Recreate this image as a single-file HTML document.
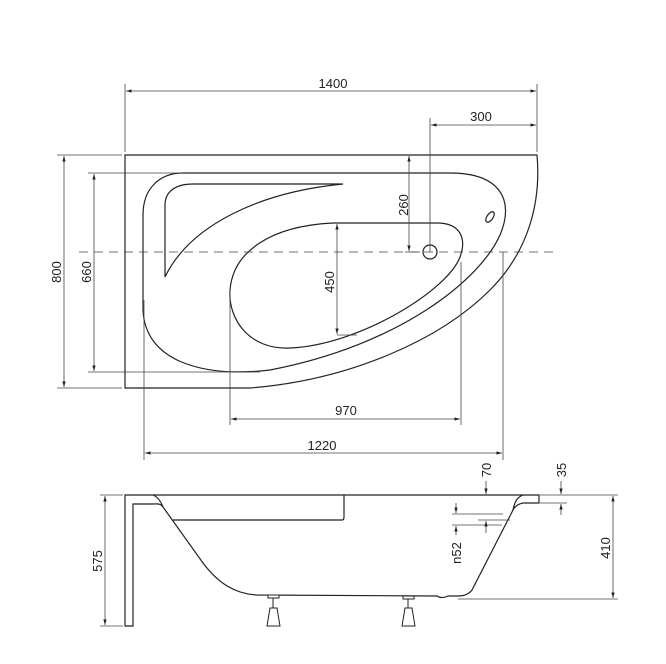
<!DOCTYPE html>
<html><head><style>
html,body{margin:0;padding:0;background:#fff;}
svg{display:block;}
text{font-family:"Liberation Sans",sans-serif;font-size:13px;fill:#222;}
</style></head><body>
<svg width="666" height="664" viewBox="0 0 666 664" xmlns="http://www.w3.org/2000/svg">
<defs>
<marker id="a" viewBox="0 0 10 10" refX="10" refY="5" markerWidth="7" markerHeight="7" orient="auto-start-reverse">
<path d="M0,2 L10,5 L0,8 Z" fill="#222"/></marker>
</defs>
<g fill="none" stroke="#222" stroke-width="1.2">
<path d="M125,155 L537,155 C541,200 530,250 490,290 C440,340 350,380 250,388 L125,388 Z"/>
<path d="M183,173 L450,173 C500,173 515,200 500,235 C480,280 400,345 270,370 C200,378 145,360 143,310 L143,215 C143,188 160,173 183,173 Z"/>
<path d="M343,184 L193,184 C175,184 165,192 165,205 L165,277 C190,225 260,192 343,184 Z"/>
<path d="M333,223 L437,223 C460,223 467,238 460,257 C448,290 360,345 290,348 C250,350 228,320 230,290 C233,252 270,226 333,223 Z"/>
<circle cx="430" cy="252" r="7"/>
<ellipse cx="490" cy="217" rx="3" ry="6" transform="rotate(35 490 217)"/>
</g>
<g fill="none" stroke="#444" stroke-width="0.8">
<line x1="79" y1="252" x2="555" y2="252" stroke-dasharray="9,6"/>
<line x1="125" y1="84" x2="125" y2="152"/><line x1="537" y1="84" x2="537" y2="152"/>
<line x1="126" y1="91" x2="536" y2="91" marker-start="url(#a)" marker-end="url(#a)"/>
<line x1="430" y1="118" x2="430" y2="252"/>
<line x1="431" y1="125" x2="536" y2="125" marker-start="url(#a)" marker-end="url(#a)"/>
<line x1="409" y1="156" x2="409" y2="251" marker-start="url(#a)" marker-end="url(#a)"/>
<line x1="405" y1="252" x2="420" y2="252"/>
<line x1="57" y1="155" x2="122" y2="155"/><line x1="57" y1="388" x2="122" y2="388"/>
<line x1="64" y1="156" x2="64" y2="387" marker-start="url(#a)" marker-end="url(#a)"/>
<line x1="88" y1="173" x2="183" y2="173"/><line x1="88" y1="372" x2="260" y2="372"/>
<line x1="94" y1="174" x2="94" y2="371" marker-start="url(#a)" marker-end="url(#a)"/>
<line x1="337" y1="224" x2="337" y2="334" marker-start="url(#a)" marker-end="url(#a)"/>
<line x1="337" y1="335" x2="357" y2="335"/>
<line x1="230" y1="290" x2="230" y2="425"/><line x1="461" y1="262" x2="461" y2="425"/>
<line x1="231" y1="419" x2="460" y2="419" marker-start="url(#a)" marker-end="url(#a)"/>
<line x1="144" y1="300" x2="144" y2="460"/><line x1="503" y1="252" x2="503" y2="460"/>
<line x1="145" y1="453" x2="502" y2="453" marker-start="url(#a)" marker-end="url(#a)"/>
</g>
<text x="333" y="88" text-anchor="middle">1400</text>
<text x="481" y="121" text-anchor="middle">300</text>
<text transform="translate(408,205) rotate(-90)" text-anchor="middle">260</text>
<text transform="translate(61,272) rotate(-90)" text-anchor="middle">800</text>
<text transform="translate(91,272) rotate(-90)" text-anchor="middle">660</text>
<text transform="translate(334,282) rotate(-90)" text-anchor="middle">450</text>
<text x="346" y="415" text-anchor="middle">970</text>
<text x="322" y="450" text-anchor="middle">1220</text>

<g fill="none" stroke="#222" stroke-width="1.2">
<path d="M125,495 L539,495 L539,503 L523,503 C518,504 515,506 513,510 L472,590 C469,594 465,596 458,596 L448,596 C444,598 440,598 437,596 L257,595 C235,594 218,583 203,563 L163,507 C160,503 157,504 153,504 L133,504 L133,626 L125,626 Z"/>
<path d="M153,495 C158,497 161,502 163,507"/>
<path d="M523,495 C518,497 515,500 513,510"/>
<path d="M173,520 L342,520 C344,520 344,518 344,516 L344,495"/>
</g>
<g fill="#fff" stroke="#222" stroke-width="1">
<rect x="268" y="595" width="11" height="3"/>
<line x1="273" y1="598" x2="273" y2="608"/>
<path d="M270,608 L277,608 L280,626 L267,626 Z"/>
<rect x="403" y="596" width="11" height="3"/>
<line x1="408" y1="599" x2="408" y2="608"/>
<path d="M405,608 L412,608 L415,626 L402,626 Z"/>
</g>
<g fill="none" stroke="#444" stroke-width="0.8">
<line x1="100" y1="495" x2="123" y2="495"/><line x1="100" y1="626" x2="123" y2="626"/>
<line x1="105" y1="496" x2="105" y2="625" marker-start="url(#a)" marker-end="url(#a)"/>
<line x1="540" y1="495" x2="618" y2="495"/><line x1="458" y1="599" x2="618" y2="599"/>
<line x1="613" y1="496" x2="613" y2="598" marker-start="url(#a)" marker-end="url(#a)"/>
<line x1="540" y1="503" x2="567" y2="503"/>
<line x1="561" y1="481" x2="561" y2="494" marker-end="url(#a)"/>
<line x1="561" y1="515" x2="561" y2="504" marker-end="url(#a)"/>
<line x1="486" y1="481" x2="486" y2="494" marker-end="url(#a)"/>
<line x1="452" y1="514" x2="503" y2="514"/>
<line x1="478" y1="520" x2="510" y2="520"/>
<line x1="452" y1="525" x2="502" y2="525"/>
<line x1="456" y1="503" x2="456" y2="513" marker-end="url(#a)"/>
<line x1="456" y1="535" x2="456" y2="526" marker-end="url(#a)"/>
<line x1="486" y1="533" x2="486" y2="521" marker-end="url(#a)"/>
</g>
<text transform="translate(102,561) rotate(-90)" text-anchor="middle">575</text>
<text transform="translate(610,548) rotate(-90)" text-anchor="middle">410</text>
<text transform="translate(566,470) rotate(-90)" text-anchor="middle">35</text>
<text transform="translate(491,470) rotate(-90)" text-anchor="middle">70</text>
<text transform="translate(461,553) rotate(-90)" text-anchor="middle">n52</text>
</svg>
</body></html>
